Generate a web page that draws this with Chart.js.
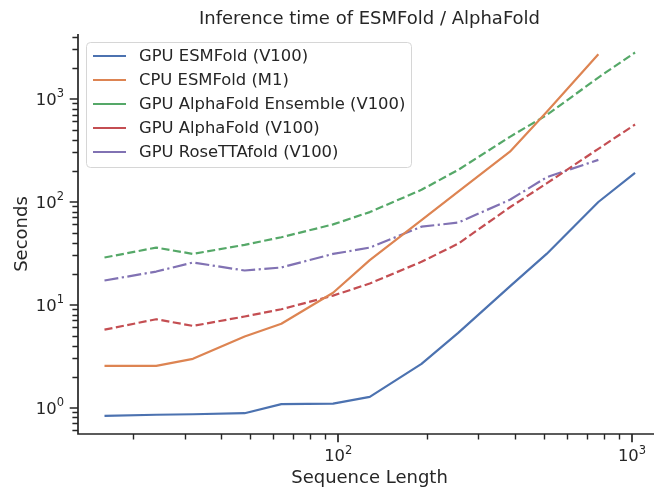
<!DOCTYPE html>
<html>
<head>
<meta charset="utf-8">
<script src="https://cdn.jsdelivr.net/npm/chart.js"></script>
<style>
  html, body { margin: 0; padding: 0; background: #fff; overflow: hidden; }
  canvas { display: block; }
</style>
</head>
<body>
<canvas id="chart" width="654" height="487"></canvas>
<script>
const lengths = [16, 24, 32, 48, 64, 96, 128, 192, 256, 384, 512, 768, 1024];

const gpuEsmfold = [0.83, 0.85, 0.86, 0.88, 1.08, 1.09, 1.27, 2.65, 5.3, 15, 31, 99, 190];
const cpuEsmfold = [2.54, 2.54, 2.97, 4.9, 6.5, 13, 27, 66, 125, 305, 740, 2700];
const gpuAlphafoldEnsemble = [28.6, 35.7, 31, 38, 45, 60, 79, 130, 203, 425, 690, 1600, 2800];
const gpuAlphafold = [5.7, 7.2, 6.2, 7.65, 9.0, 12.2, 16, 26, 39, 88, 150, 325, 560];
const gpuRosettafold = [17.1, 20.9, 25.6, 21.4, 22.9, 31, 35.7, 57, 62.5, 104, 172, 254];

const seriesNames = [
  "GPU ESMFold (V100)",
  "CPU ESMFold (M1)",
  "GPU AlphaFold Ensemble (V100)",
  "GPU AlphaFold (V100)",
  "GPU RoseTTAfold (V100)"
];

const xMajorTicks = [100, 1000];
const xMinorTicks = [20, 30, 40, 50, 60, 70, 80, 90, 200, 300, 400, 500, 600, 700, 800, 900];
const yMajorTicks = [1, 10, 100, 1000];
const yMinorTicks = [0.6, 0.7, 0.8, 0.9, 2, 3, 4, 5, 6, 7, 8, 9, 20, 30, 40, 50, 60, 70, 80, 90,
  200, 300, 400, 500, 600, 700, 800, 900, 2000, 3000, 4000];

const ink = "#262626";
const font = "DejaVu Sans";

function points(vals) {
  return vals.map((v, i) => ({ x: lengths[i], y: v }));
}

const styles = [
  { color: "#4C72B0", dash: [] },
  { color: "#DD8452", dash: [] },
  { color: "#55A868", dash: [8.1, 3.5] },
  { color: "#C44E52", dash: [8.1, 3.5] },
  { color: "#8172B3", dash: [14, 3.5, 2.2, 3.5] }
];

const allSeries = [gpuEsmfold, cpuEsmfold, gpuAlphafoldEnsemble, gpuAlphafold, gpuRosettafold];

const datasets = allSeries.map((vals, i) => ({
  label: seriesNames[i],
  data: points(vals),
  borderColor: styles[i].color,
  borderDash: styles[i].dash,
  borderWidth: 2.2,
  borderJoinStyle: "round",
  pointRadius: 0,
  fill: false,
  tension: 0
}));

function powLabel(ctx, exp, x, baseY, align) {
  ctx.font = `16.4px '${font}'`;
  const wBase = ctx.measureText("10").width;
  ctx.font = `11.5px '${font}'`;
  const wExp = ctx.measureText(String(exp)).width;
  const total = wBase + wExp;
  let start = align === "right" ? x - total : x - total / 2;
  ctx.textAlign = "left";
  ctx.textBaseline = "alphabetic";
  ctx.font = `16.4px '${font}'`;
  ctx.fillText("10", start, baseY);
  ctx.font = `11.5px '${font}'`;
  ctx.fillText(String(exp), start + wBase, baseY - 7.5);
}

const axesPlugin = {
  id: "axesPlugin",
  afterDatasetsDraw(chart) {
    const { ctx, chartArea: a, scales: { x, y } } = chart;
    ctx.save();
    ctx.strokeStyle = ink;
    ctx.fillStyle = ink;

    // ticks
    ctx.lineWidth = 1.4;
    ctx.beginPath();
    xMinorTicks.forEach(t => { const px = Math.round(x.getPixelForValue(t)) + 0.5; ctx.moveTo(px, a.bottom); ctx.lineTo(px, a.bottom + 5.6); });
    yMinorTicks.forEach(t => { const py = Math.round(y.getPixelForValue(t)) + 0.5; if (py < a.top) return; ctx.moveTo(a.left, py); ctx.lineTo(a.left - 5.6, py); });
    ctx.stroke();
    ctx.lineWidth = 1.7;
    ctx.beginPath();
    xMajorTicks.forEach(t => { const px = Math.round(x.getPixelForValue(t)); ctx.moveTo(px, a.bottom); ctx.lineTo(px, a.bottom + 8.3); });
    yMajorTicks.forEach(t => { const py = Math.round(y.getPixelForValue(t)); ctx.moveTo(a.left, py); ctx.lineTo(a.left - 8.3, py); });
    ctx.stroke();

    // spines
    ctx.lineWidth = 1.7;
    ctx.beginPath();
    ctx.moveTo(a.left, a.top);
    ctx.lineTo(a.left, a.bottom);
    ctx.lineTo(a.right, a.bottom);
    ctx.stroke();

    // tick labels
    xMajorTicks.forEach(t => powLabel(ctx, Math.round(Math.log10(t)), x.getPixelForValue(t), a.bottom + 27, "center"));
    yMajorTicks.forEach(t => powLabel(ctx, Math.round(Math.log10(t)), a.left - 14, y.getPixelForValue(t) + 6, "right"));

    // titles
    const cx = 369.5;
    ctx.textAlign = "center";
    ctx.textBaseline = "alphabetic";
    ctx.font = `18px '${font}'`;
    ctx.fillText("Inference time of ESMFold / AlphaFold", cx, 24);
    ctx.fillText("Sequence Length", cx, 483);
    ctx.save();
    ctx.translate(27, (a.top + a.bottom) / 2);
    ctx.rotate(-Math.PI / 2);
    ctx.fillText("Seconds", 0, 0);
    ctx.restore();

    // legend
    const lx = 86, ly = 42, lw = 325, lh = 125, r = 4;
    ctx.beginPath();
    ctx.roundRect(lx + 0.5, ly + 0.5, lw, lh, r);
    ctx.fillStyle = "rgba(255,255,255,0.8)";
    ctx.fill();
    ctx.strokeStyle = "#d6d6d6";
    ctx.lineWidth = 1;
    ctx.stroke();
    ctx.font = `16.4px '${font}'`;
    ctx.textAlign = "left";
    ctx.textBaseline = "middle";
    seriesNames.forEach((name, i) => {
      const ry = 56 + i * 24;
      ctx.strokeStyle = styles[i].color;
      ctx.lineWidth = 2.2;
      ctx.beginPath();
      ctx.moveTo(93, ry);
      ctx.lineTo(126, ry);
      ctx.stroke();
      ctx.fillStyle = ink;
      ctx.fillText(name, 139, ry + 1);
    });
    ctx.restore();
  }
};

new Chart(document.getElementById("chart"), {
  type: "line",
  data: { datasets },
  options: {
    responsive: false,
    animation: false,
    devicePixelRatio: 1,
    layout: { padding: { left: 78, right: 0, top: 34, bottom: 53 } },
    plugins: { legend: { display: false }, title: { display: false }, tooltip: { enabled: false } },
    scales: {
      x: { type: "logarithmic", min: 13.0, max: 1188, display: false },
      y: { type: "logarithmic", min: 0.553, max: 4236, display: false }
    }
  },
  plugins: [axesPlugin]
});
</script>
</body>
</html>
